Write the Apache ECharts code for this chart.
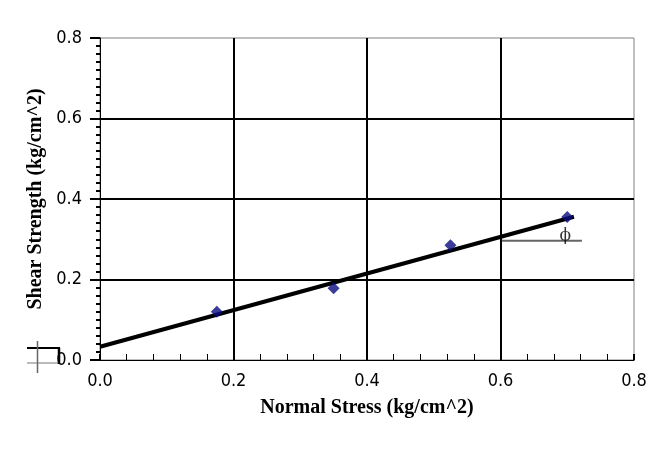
<!DOCTYPE html>
<html>
<head>
<meta charset="utf-8">
<script src="https://cdn.jsdelivr.net/npm/echarts@6/dist/echarts.min.js"></script>
<style>
  html, body { margin: 0; padding: 0; background: #fff; }
  #chart { width: 670px; height: 449px; }
</style>
</head>
<body>
<div id="chart"></div>
<script>
// measured points (normal stress, shear strength)
const normalStress = [0.175, 0.35, 0.525, 0.70];
const shearStrength = [0.12, 0.178, 0.285, 0.355];
// fitted failure envelope end points
const fitLine = [[0, 0.033], [0.71, 0.356]];
// friction angle reference line + label position
const phiLine = [[0.602, 0.296], [0.722, 0.296]];
const phiLabel = [[0.697, 0.31]];
const tickLabels = ["0.0", "0.2", "0.4", "0.6", "0.8"];

const chart = echarts.init(document.getElementById("chart"));

const labelFont = {
  color: "#000",
  fontFamily: "'DejaVu Sans Condensed', 'Liberation Sans Narrow', sans-serif",
  fontSize: 18,
};
const titleFont = {
  color: "#000",
  fontFamily: "'Liberation Serif', serif",
  fontWeight: "bold",
  fontSize: 20,
};

const option = {
  backgroundColor: "#fff",
  animation: false,
  grid: {
    left: 100,
    right: 36,
    top: 38,
    bottom: 89,
    show: true,
    borderColor: "#808080",
    borderWidth: 1,
  },
  xAxis: {
    type: "value",
    min: 0,
    max: 0.8,
    interval: 0.2,
    name: "Normal Stress (kg/cm^2)",
    nameLocation: "middle",
    nameGap: 38,
    nameTextStyle: titleFont,
    axisLine: { show: true, lineStyle: { color: "#000", width: 1 } },
    axisTick: { show: true, inside: true, length: 6, lineStyle: { color: "#000", width: 2 } },
    minorTick: { show: true, splitNumber: 5, length: 6, lineStyle: { color: "#000", width: 1 } },
    axisLabel: {
      ...labelFont,
      margin: 12,
      formatter: (v) => tickLabels[Math.round(v / 0.2)],
    },
    splitLine: {
      show: true,
      showMinLine: false,
      showMaxLine: false,
      lineStyle: { color: "#000", width: 2 },
    },
  },
  yAxis: {
    type: "value",
    min: 0,
    max: 0.8,
    interval: 0.2,
    name: "Shear Strength (kg/cm^2)",
    nameLocation: "middle",
    nameGap: 52,
    nameTextStyle: titleFont,
    axisLine: { show: true, lineStyle: { color: "#000", width: 1 } },
    axisTick: { show: true, length: 10, lineStyle: { color: "#000", width: 2 } },
    minorTick: { show: true, splitNumber: 10, length: 4, lineStyle: { color: "#000", width: 2 } },
    axisLabel: {
      ...labelFont,
      margin: 18,
      formatter: (v) => tickLabels[Math.round(v / 0.2)],
    },
    splitLine: {
      show: true,
      showMinLine: false,
      showMaxLine: false,
      lineStyle: { color: "#000", width: 2 },
    },
  },
  series: [
    {
      name: "phi",
      type: "line",
      data: phiLine,
      symbol: "none",
      lineStyle: { color: "#666", width: 2 },
      z: 2,
    },
    {
      name: "fit",
      type: "line",
      data: fitLine,
      symbol: "none",
      lineStyle: { color: "#000", width: 4 },
      z: 3,
    },
    {
      name: "data",
      type: "scatter",
      data: normalStress.map((x, i) => [x, shearStrength[i]]),
      symbol: "diamond",
      symbolSize: 12,
      itemStyle: { color: "#0a0a80" },
      z: 4,
    },
    {
      name: "phiText",
      type: "scatter",
      data: phiLabel,
      symbolSize: 0,
      label: {
        show: true,
        position: "inside",
        formatter: "\u03d5",
        color: "#000",
        fontFamily: "'DejaVu Serif', serif",
        fontSize: 17,
      },
      z: 5,
    },
  ],
  // stray marks in the lower-left corner of the original
  graphic: [
    { type: "line", shape: { x1: 27, y1: 348, x2: 60, y2: 348 }, style: { stroke: "#000", lineWidth: 2 } },
    { type: "line", shape: { x1: 27, y1: 363, x2: 60, y2: 363 }, style: { stroke: "#777", lineWidth: 1 } },
    { type: "line", shape: { x1: 37.5, y1: 341, x2: 37.5, y2: 373 }, style: { stroke: "#666", lineWidth: 1.5 } },
    { type: "line", shape: { x1: 59, y1: 348, x2: 59, y2: 364 }, style: { stroke: "#000", lineWidth: 2.5 } },
  ],
};

chart.setOption(option);
</script>
</body>
</html>
